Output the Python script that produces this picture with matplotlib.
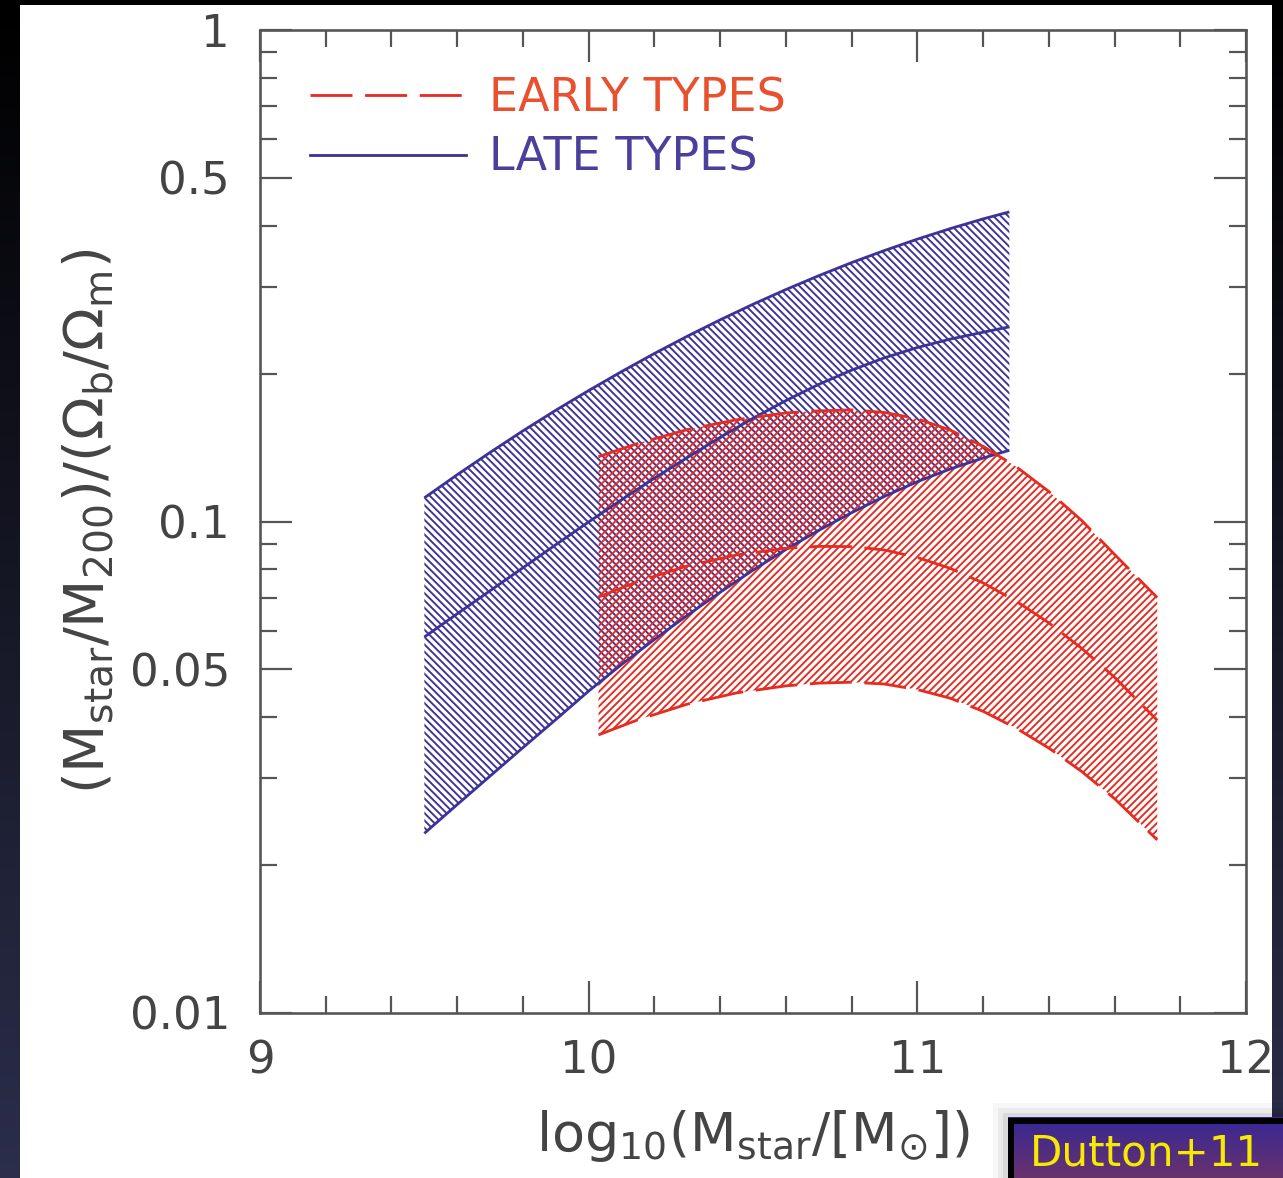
import numpy as np
import matplotlib
matplotlib.use("Agg")
import matplotlib.pyplot as plt
from matplotlib.patches import Rectangle
from matplotlib.lines import Line2D
from matplotlib.ticker import FixedLocator, NullFormatter

W, H, DPI = 1283, 1178, 88


def pt(p):
    """pixels -> points at the figure dpi"""
    return p * 72.0 / DPI


# ---- data: stellar-to-halo mass fraction bands (Dutton et al. 2011) ----
late_logm = [9.5, 9.6, 9.7, 9.8, 9.9, 10.0, 10.1, 10.2, 10.3, 10.4,
             10.5, 10.6, 10.7, 10.8, 10.9, 11.0, 11.1, 11.2, 11.28]
late_hi = [0.1117, 0.1245, 0.1382, 0.1529, 0.1684, 0.1847, 0.2018, 0.2197,
           0.2382, 0.2572, 0.2767, 0.2964, 0.3163, 0.3363, 0.3559, 0.3754,
           0.3943, 0.4127, 0.4265]
late_mid = [0.0582, 0.0649, 0.0723, 0.0805, 0.0897, 0.0998, 0.1107, 0.1225,
            0.1349, 0.1483, 0.1622, 0.1762, 0.1901, 0.2032, 0.2153, 0.2259,
            0.2350, 0.2427, 0.2489]
late_lo = [0.0232, 0.02655, 0.03034, 0.03467, 0.03954, 0.04519, 0.05117,
           0.05754, 0.06442, 0.07178, 0.07962, 0.0877, 0.09594, 0.1042,
           0.1125, 0.1205, 0.1279, 0.1346, 0.1396]

early_logm = [10.03, 10.15, 10.3, 10.45, 10.6, 10.7, 10.8, 10.9, 11.0,
              11.1, 11.2, 11.3, 11.4, 11.5, 11.6, 11.73]
early_hi = [0.1355, 0.1442, 0.1538, 0.1611, 0.1663, 0.1679, 0.1687, 0.1667,
            0.1618, 0.1535, 0.1422, 0.1294, 0.1151, 0.1005, 0.0857, 0.0700]
early_mid = [0.0702, 0.0755, 0.0812, 0.0855, 0.0882, 0.0890, 0.0889, 0.0875,
             0.0845, 0.0803, 0.0750, 0.0689, 0.0622, 0.0552, 0.0482, 0.0394]
early_lo = [0.0368, 0.0395, 0.0425, 0.0448, 0.0463, 0.0469, 0.0471, 0.0467,
            0.0455, 0.0437, 0.0411, 0.0380, 0.0346, 0.0310, 0.0273, 0.0225]

y_major = [0.01, 0.05, 0.1, 0.5, 1.0]
y_major_labels = ["0.01", "0.05", "0.1", "0.5", "1"]
y_minor = [0.02, 0.03, 0.04, 0.06, 0.07, 0.08, 0.09, 0.2, 0.3, 0.4, 0.6, 0.7, 0.8, 0.9]
x_major = [9, 10, 11, 12]
x_major_labels = ["9", "10", "11", "12"]
x_minor = [9.2, 9.4, 9.6, 9.8, 10.2, 10.4, 10.6, 10.8, 11.2, 11.4, 11.6, 11.8]

LATE_C = "#3b3396"
EARLY_C = "#e62b20"
AXIS_C = "#555555"
TEXT_C = "#444444"

plt.rcParams["mathtext.default"] = "regular"
plt.rcParams["hatch.linewidth"] = pt(1.9)
plt.rcParams["font.family"] = ["DejaVu Sans"]

fig = plt.figure(figsize=(W / DPI, H / DPI), dpi=DPI, facecolor="black")

# ---- slide background: dark gradient with a white panel ----
bg = fig.add_axes([0, 0, 1, 1], zorder=-10)
bg.set_axis_off()
t = np.linspace(0, 1, 256)[:, None, None]
top_c = np.array([0.0, 0.0, 0.0])
bot_c = np.array([0.17, 0.18, 0.29])
grad = top_c * (1 - t) + bot_c * t
grad = np.repeat(grad, 2, axis=1)
bg.imshow(grad, extent=(0, 1, 0, 1), aspect="auto", origin="upper")
bg.add_patch(Rectangle((20 / W, 0), (1272 - 20) / W, 1 - 5 / H,
                       facecolor="white", edgecolor="none"))
bg.set_xlim(0, 1)
bg.set_ylim(0, 1)

# ---- main axes ----
ax = fig.add_axes([260 / W, 1 - 1013 / H, 986 / W, 983 / H])
ax.set_facecolor("white")
ax.set_yscale("log")
ax.set_xlim(9, 12)
ax.set_ylim(0.01, 1)

ax.fill_between(late_logm, late_lo, late_hi, facecolor="none",
                edgecolor=LATE_C, hatch="\\\\\\\\", linewidth=0, zorder=2)
ax.fill_between(early_logm, early_lo, early_hi, facecolor="none",
                edgecolor=EARLY_C, hatch="////", linewidth=0, zorder=2)

lw = pt(2.8)
dash = (0, (15, 4.5))
for yy in (late_hi, late_mid, late_lo):
    ax.plot(late_logm, yy, color=LATE_C, lw=lw, solid_capstyle="butt", zorder=4)
for yy in (early_hi, early_mid, early_lo):
    ax.plot(early_logm, yy, color=EARLY_C, lw=lw, linestyle=dash, zorder=4)

# ticks
ax.yaxis.set_major_locator(FixedLocator(y_major))
ax.yaxis.set_minor_locator(FixedLocator(y_minor))
ax.set_yticklabels(y_major_labels)
ax.yaxis.set_minor_formatter(NullFormatter())
ax.xaxis.set_major_locator(FixedLocator(x_major))
ax.xaxis.set_minor_locator(FixedLocator(x_minor))
ax.set_xticklabels(x_major_labels)

ax.tick_params(which="both", direction="in", top=True, right=True,
               color=AXIS_C, width=pt(2.2), labelcolor=TEXT_C,
               labelsize=pt(45))
ax.tick_params(which="major", length=pt(32))
ax.tick_params(which="minor", length=pt(17))
ax.tick_params(axis="y", which="major", pad=pt(30))
ax.tick_params(axis="x", which="major", pad=pt(26))
for s in ax.spines.values():
    s.set_color(AXIS_C)
    s.set_linewidth(pt(2.6))

ax.set_xlabel(r"$log_{10}(M_{star}/[M_{\odot}])$", fontsize=pt(54),
              color=TEXT_C, labelpad=pt(26))
ax.set_ylabel(r"$(M_{star}/M_{200})/(\Omega_b/\Omega_m)$", fontsize=pt(56),
              color=TEXT_C, labelpad=pt(14))

# legend
h_early = Line2D([], [], color=EARLY_C, lw=lw, linestyle=dash)
h_late = Line2D([], [], color=LATE_C, lw=lw)
leg = ax.legend([h_early, h_late], ["EARLY TYPES", "LATE TYPES"],
                loc="upper left", bbox_to_anchor=(50 / 986, 1 - 46 / 983),
                frameon=False, fontsize=pt(46), handlelength=3.4,
                handletextpad=0.5, labelspacing=0.32, borderpad=0,
                borderaxespad=0)
leg.get_texts()[0].set_color("#e8502e")
leg.get_texts()[1].set_color("#4b3f9c")

# ---- overlay: right margin and citation badge ----
ov = fig.add_axes([0, 0, 1, 1], zorder=10)
ov.set_axis_off()
ov.set_xlim(0, 1)
ov.set_ylim(0, 1)
ov.imshow(grad, extent=(1272 / W, 1, 0, 1), aspect="auto", origin="upper")
for i, a in enumerate([0.03, 0.05, 0.07]):
    g = (3 - i) * 5
    ov.add_patch(Rectangle(((1008 - g) / W, 0), 1, (1178 - 1118 + g) / H,
                           facecolor="black", edgecolor="none", alpha=a))
bt = np.linspace(0, 1, 64)[:, None, None]
badge = np.array([0.25, 0.19, 0.70]) * (1 - bt) + np.array([0.49, 0.23, 0.50]) * bt
badge = np.repeat(badge, 2, axis=1)
ov.imshow(badge, extent=(1008 / W, 1, 0, 1 - 1118 / H), aspect="auto",
          origin="upper")
ov.add_patch(Rectangle((1011 / W, -0.01), 0.5, 0.01 + (1178 - 1121) / H,
                       facecolor="none", edgecolor="black", linewidth=pt(6)))
ov.text(1030 / W, 1 - 1166 / H, "Dutton+11", color="#f5ea00",
        fontsize=pt(42), va="baseline", ha="left")
ov.set_xlim(0, 1)
ov.set_ylim(0, 1)

fig.savefig("out.png", dpi=DPI, facecolor="black")
